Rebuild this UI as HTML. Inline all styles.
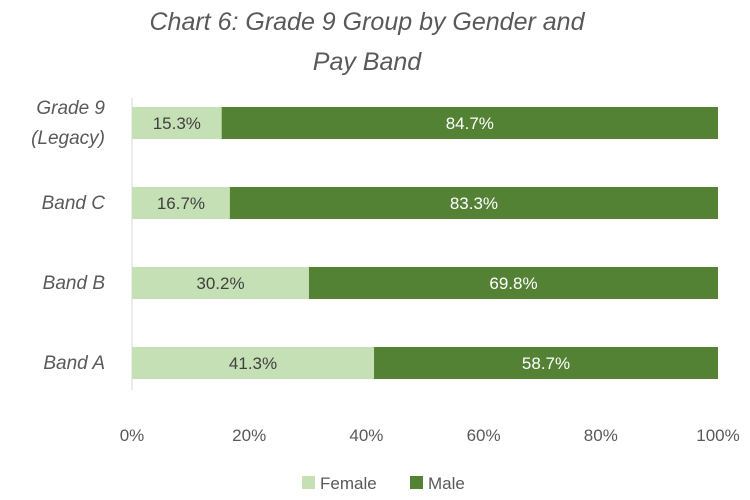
<!DOCTYPE html>
<html><head><meta charset="utf-8"><style>
body{margin:0;background:#fff;}
svg{display:block;font-family:"Liberation Sans",sans-serif;}
</style></head><body>
<svg width="750" height="500">
<rect width="750" height="500" fill="#fff"/>
<text x="367" y="30" text-anchor="middle" font-size="25" font-style="italic" fill="#595959">Chart 6: Grade 9 Group by Gender and</text>
<text x="367" y="70" text-anchor="middle" font-size="25" font-style="italic" fill="#595959">Pay Band</text>
<line x1="132" y1="98" x2="132" y2="390" stroke="#d9d9d9"/>
<g id="bars"></g>
<g id="xt"></g>
<rect x="302" y="476" width="13" height="13" fill="#c5e0b4"/>
<text x="320" y="489" font-size="17" fill="#595959">Female</text>
<rect x="410" y="476" width="13" height="13" fill="#548235"/>
<text x="428" y="489" font-size="17" fill="#595959">Male</text>
</svg>
<script>
const categories=["Grade 9|(Legacy)","Band C","Band B","Band A"];
const female=[15.3,16.7,30.2,41.3];
const male=[84.7,83.3,69.8,58.7];
const ticks=[0,20,40,60,80,100];
const NS="http://www.w3.org/2000/svg";
const x=v=>132+v*5.86;
const yc=i=>123+i*80;
function mk(t,a,p){const e=document.createElementNS(NS,t);for(const k in a)e.setAttribute(k,a[k]);p.appendChild(e);return e;}
const g=document.getElementById('bars');
categories.forEach((c,i)=>{
  const f=mk('rect',{x:x(0),y:yc(i)-16,width:x(female[i])-x(0),height:32,fill:'#c5e0b4'},g);
  
  
  const m=mk('rect',{x:x(female[i]),y:yc(i)-16,width:x(female[i]+male[i])-x(female[i]),height:32,fill:'#548235'},g);
  
  
  const ft=mk('text',{x:(x(0)+x(female[i]))/2,y:yc(i)+6,'text-anchor':'middle','font-size':17,fill:'#404040'},g);
  ft.textContent=female[i].toFixed(1)+'%';
  
  
  const mt=mk('text',{x:(x(female[i])+x(female[i]+male[i]))/2,y:yc(i)+6,'text-anchor':'middle','font-size':17,fill:'#fff'},g);
  mt.textContent=male[i].toFixed(1)+'%';
  
  
  const parts=c.split('|');
  parts.forEach((p,j)=>{
    const t=mk('text',{x:105,y:yc(i)+6+(parts.length>1?(j-0.5)*30:0),'text-anchor':'end','font-size':19,'font-style':'italic',fill:'#595959'},g);
    t.textContent=p;
    
    
  });
});
const xt=document.getElementById('xt');
ticks.forEach(v=>{
  const t=mk('text',{x:x(v),y:441,'text-anchor':'middle','font-size':17,fill:'#595959'},xt);
  t.textContent=v+'%';
  
  
});
</script>
</body></html>
